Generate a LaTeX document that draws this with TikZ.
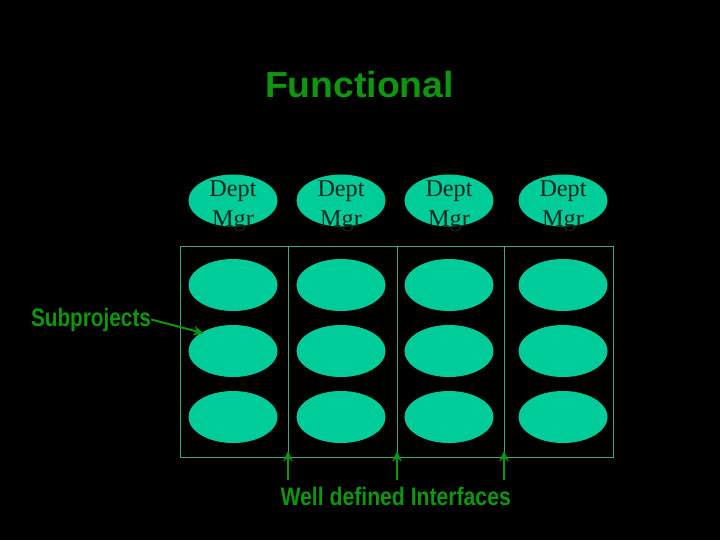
\documentclass[tikz,border=0pt]{standalone}
\usepackage{fontspec}
\usetikzlibrary{arrows.meta,shapes.geometric}
\setmainfont{Liberation Serif}
\newfontfamily\headfont{Liberation Sans}
\definecolor{subC}{RGB}{0,204,153}
\definecolor{lineC}{RGB}{60,170,120}
\definecolor{txtC}{RGB}{14,150,14}
\definecolor{mgrC}{RGB}{18,40,30}

\begin{document}
\begin{tikzpicture}[x=0.025cm,y=-0.025cm,>={Stealth[length=2.6mm,width=2.4mm]},
  oval/.style={ellipse,fill=subC,inner sep=0pt,minimum width=2.225cm,minimum height=1.3cm},
  mgrtext/.style={mgrC,align=center,inner sep=0pt,font=\fontsize{17.2}{21.6}\selectfont},
  headline/.style={txtC,inner sep=0pt,anchor=base,font=\headfont\bfseries\fontsize{18}{20}\selectfont,xscale=0.82},
  frame/.style={lineC,line width=0.7pt},
  pointer/.style={->,txtC,line width=1.4pt}]
\fill[black] (0,0) rectangle (720,540);
\useasboundingbox (0,0) rectangle (720,540);
% title
\node[txtC,inner sep=0pt,anchor=base,font=\headfont\bfseries\fontsize{25.8}{28}\selectfont,xscale=1.03] (title) at (359.5,97) {Functional};
% department managers
\foreach \c/\x in {1/233,2/341,3/449,4/563}{
  \node[oval] (m\c) at (\x,200.5) {};
  \node[mgrtext] (m\c t) at (\x,206) {Dept\\Mgr};
}
% functional units
\draw[frame] (180,246) rectangle (613,457);
\foreach \x in {288,397,504} \draw[frame] (\x,246)--(\x,457);
\foreach \c/\x in {1/233,2/341,3/449,4/563}
  \foreach \r/\y in {1/285,2/351,3/417}
    \node[oval] (s\r\c) at (\x,\y) {};
% labels
\node[headline] (sub) at (91,326) {Subprojects};
\draw[pointer,shorten >=-2pt] (sub.east) -- (s21.150);
\node[headline,xscale=1.02] (intf) at (395.7,505.7) {Well defined Interfaces};
\foreach \i/\x in {1/288,2/397,3/504}{
  \coordinate (a\i) at (\x,480);
  \coordinate (b\i) at (\x,451);
  \draw[pointer] (a\i) -- (b\i);
}
\end{tikzpicture}
\end{document}
